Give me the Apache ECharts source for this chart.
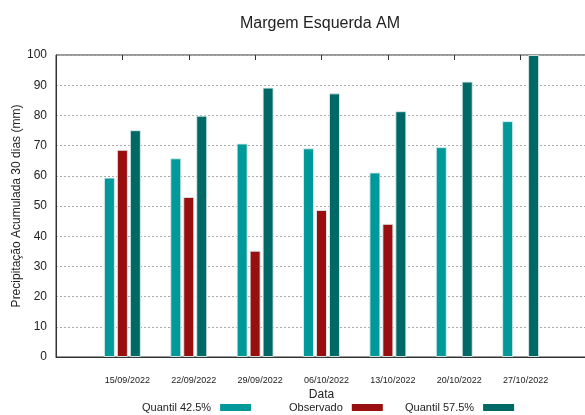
<!DOCTYPE html>
<html>
<head>
<meta charset="utf-8">
<script src="https://cdn.jsdelivr.net/npm/echarts@6/dist/echarts.min.js"></script>
<style>html,body{margin:0;padding:0;background:#fff;}#c{width:585px;height:415px;}</style>
</head>
<body>
<div id="c"></div>
<script>
var dates = ['', '15/09/2022', '22/09/2022', '29/09/2022', '06/10/2022', '13/10/2022', '20/10/2022', '27/10/2022', ''];
var quantil425 = [null, 59.4, 65.8, 70.7, 69.1, 61.1, 69.5, 78.1, null];
var observado = [null, 68.6, 53.0, 35.2, 48.7, 44.1, null, null, null];
var quantil575 = [null, 75.1, 79.9, 89.2, 87.3, 81.4, 91.2, 100, null];
var yTicks = [0, 10, 20, 30, 40, 50, 60, 70, 80, 90, 100];
var seriesNames = ['Quantil 42.5%', 'Observado', 'Quantil 57.5%'];

var font = "'Liberation Sans', Arial, sans-serif";
var chart = echarts.init(document.getElementById('c'), null, {renderer: 'canvas'});
var barBorder = {borderColor: 'rgba(220,235,235,0.9)', borderWidth: 1};
var legendLefts = [142, 289, 405];
var legends = seriesNames.map(function(n, i){
  return {
    left: legendLefts[i], top: 402, itemWidth: 31, itemHeight: 7, align: 'right',
    icon: 'rect', padding: 0,
    itemStyle: {borderWidth: 0},
    textStyle: {fontFamily: font, fontSize: 11, color: '#222', padding: [0, 4, 0, 0]},
    data: [n]
  };
});
chart.setOption({
  animation: false,
  backgroundColor: '#fff',
  title: {
    text: 'Margem Esquerda AM', left: 315, top: 11, textAlign: 'center',
    textStyle: {fontFamily: font, fontSize: 16, fontWeight: 'normal', color: '#222'}
  },
  legend: legends,
  grid: {left: 56, top: 55, width: 531, height: 302, show: true, borderColor: '#333', borderWidth: 1,
    containLabel: false, outerBoundsMode: 'none'},
  xAxis: [{
    type: 'category', data: dates, boundaryGap: false,
    name: 'Data', nameLocation: 'middle', nameGap: 32, nameMoveOverlap: false,
    nameTextStyle: {fontFamily: font, fontSize: 12, color: '#222'},
    axisLine: {lineStyle: {color: '#333'}},
    axisTick: {show: false},
    axisLabel: {fontFamily: font, fontSize: 9, color: '#222', margin: 19, padding: [0, 0, 0, 10], interval: 0},
    splitLine: {show: false}
  }, {
    type: 'category', data: dates, boundaryGap: false, position: 'top',
    axisLine: {show: false},
    axisTick: {show: true, inside: true, length: 5, lineStyle: {color: '#333'}, interval: function(i){return i>0 && i<8;}},
    axisLabel: {show: false}
  }],
  yAxis: {
    type: 'value', min: 0, max: 100, interval: 10,
    name: 'Precipitação Acumulada 30 dias (mm)', nameLocation: 'middle', nameGap: 33, nameMoveOverlap: false,
    nameTextStyle: {fontFamily: font, fontSize: 12, color: '#222'},
    axisLine: {show: true, lineStyle: {color: '#333'}},
    axisTick: {show: false},
    axisLabel: {fontFamily: font, fontSize: 12, color: '#222', margin: 9,
      formatter: function(v){ return yTicks.indexOf(v) >= 0 ? String(v) : ''; }},
    splitLine: {show: true, lineStyle: {color: '#aaa', type: [2, 2], width: 1}}
  },
  series: [
    {name: seriesNames[0], type: 'bar', data: quantil425, barWidth: 11, barGap: '18%',
      itemStyle: Object.assign({color: '#009999'}, barBorder)},
    {name: seriesNames[1], type: 'bar', data: observado, barWidth: 11, barGap: '18%',
      itemStyle: Object.assign({color: '#990e0e'}, barBorder)},
    {name: seriesNames[2], type: 'bar', data: quantil575, barWidth: 11, barGap: '18%',
      itemStyle: Object.assign({color: '#006966'}, barBorder)}
  ]
});
</script>
</body>
</html>
